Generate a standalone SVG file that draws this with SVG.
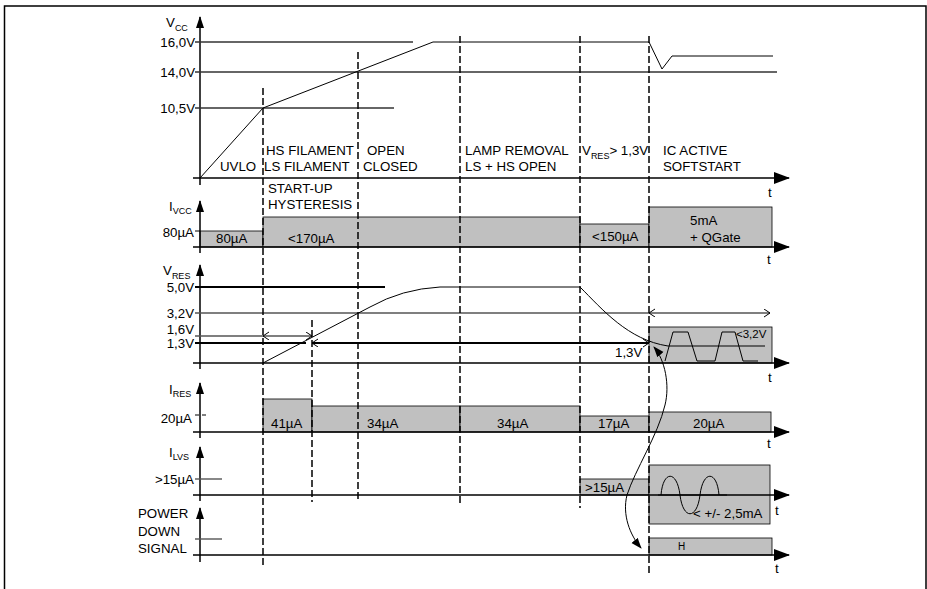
<svg xmlns="http://www.w3.org/2000/svg" width="927" height="589" viewBox="0 0 927 589">
<style>
text{font-family:"Liberation Sans",Arial,sans-serif;font-size:13.3px;fill:#000}
.r{text-anchor:end}
.sm{font-size:9px}
.ax{stroke:#000;stroke-width:1.5;fill:none}
.th{stroke:#000;stroke-width:1;fill:none}
.ref{stroke:#333;stroke-width:1.6;fill:none}
.refg{stroke:#555;stroke-width:1.4;fill:none}
.bold{stroke:#000;stroke-width:2;fill:none}
.dash{stroke:#000;stroke-width:1.5;stroke-dasharray:7,3;fill:none}
.box{fill:#c0c0c0;stroke:#000;stroke-width:0.8}
</style>
<defs>
<marker id="arr" markerUnits="userSpaceOnUse" markerWidth="18" markerHeight="14" refX="15" refY="6" orient="auto"><path d="M0,0 L16,6 L0,12 z" fill="#000"/></marker>
<marker id="arrS" markerUnits="userSpaceOnUse" markerWidth="14" markerHeight="10" refX="11" refY="4" orient="auto"><path d="M0,0 L12,4 L0,8 z" fill="#000"/></marker>
<marker id="chev" markerUnits="userSpaceOnUse" markerWidth="9" markerHeight="10" refX="6" refY="4" orient="auto-start-reverse"><path d="M0,0 L6,4 L0,8" fill="none" stroke="#000" stroke-width="1"/></marker>
<marker id="cur" markerUnits="userSpaceOnUse" markerWidth="12" markerHeight="10" refX="10" refY="4" orient="auto-start-reverse"><path d="M0,0 L11,4 L0,8 z" fill="#000"/></marker>
</defs>
<rect width="927" height="589" fill="#fff"/>
<path class="ax" d="M4.5,589 V6 H926 V589" stroke-width="1.5"/>

<g id="vcc">
<line class="ax" x1="200" y1="185" x2="200" y2="17" marker-end="url(#arrS)"/>
<line class="ax" x1="193" y1="178" x2="789" y2="178" marker-end="url(#arr)"/>
<text x="166" y="27">V<tspan class="sm" dy="4">CC</tspan></text>
<text class="r" x="195" y="47">16,0V</text>
<text class="r" x="195" y="77">14,0V</text>
<text class="r" x="195" y="113">10,5V</text>
<line class="ref" x1="195" y1="42" x2="413" y2="42"/>
<line class="ref" x1="195" y1="72" x2="777" y2="72"/>
<line class="ref" x1="195" y1="108" x2="394" y2="108"/>
<polyline class="th" points="200,178 263,108 433,42 649,42 662,69 672,56 773,56"/>
<text x="220" y="171">UVLO</text>
<text x="266" y="155">HS FILAMENT</text>
<text x="264" y="171">LS FILAMENT</text>
<text x="367" y="155">OPEN</text>
<text x="363" y="171">CLOSED</text>
<text x="465" y="155">LAMP REMOVAL</text>
<text x="465" y="171">LS + HS OPEN</text>
<text x="582" y="155">V<tspan class="sm" dy="4">RES</tspan><tspan dy="-4">&gt; 1,3V</tspan></text>
<text x="663" y="155">IC ACTIVE</text>
<text x="663" y="171">SOFTSTART</text>
<text x="268" y="193">START-UP</text>
<text x="268" y="209">HYSTERESIS</text>
<text x="768" y="197">t</text>
</g>

<g id="ivcc">
<rect class="box" x="200" y="231" width="63" height="16"/>
<rect class="box" x="263" y="217" width="317" height="30"/>
<rect class="box" x="580" y="224" width="69" height="23"/>
<rect class="box" x="649" y="207" width="123" height="40"/>
<line class="th" x1="195" y1="231" x2="200" y2="231"/>
<line class="ax" x1="200" y1="253" x2="200" y2="201" marker-end="url(#arrS)"/>
<line class="ax" x1="193" y1="247" x2="789" y2="247" marker-end="url(#arr)"/>
<text x="169" y="211">I<tspan class="sm" dy="3">VCC</tspan></text>
<text class="r" x="194" y="237">80µA</text>
<text x="216" y="243">80µA</text>
<text x="288" y="243">&lt;170µA</text>
<text x="592" y="241">&lt;150µA</text>
<text x="690" y="225">5mA</text>
<text x="690" y="242">+ QGate</text>
<text x="767" y="264">t</text>
</g>

<g id="vres">
<rect class="box" x="649" y="327" width="123" height="36"/>
<line class="ax" x1="200" y1="369" x2="200" y2="265" marker-end="url(#arrS)"/>
<line class="ax" x1="193" y1="363" x2="789" y2="363" marker-end="url(#arr)"/>
<text x="163" y="275">V<tspan class="sm" dy="4">RES</tspan></text>
<text class="r" x="194" y="292">5,0V</text>
<text class="r" x="194" y="318">3,2V</text>
<text class="r" x="194" y="334">1,6V</text>
<text class="r" x="194" y="348">1,3V</text>
<line class="bold" x1="195" y1="287" x2="385" y2="287"/>
<line class="refg" x1="195" y1="313" x2="649" y2="313"/>
<line class="refg" x1="649" y1="313" x2="770" y2="313" marker-start="url(#chev)" marker-end="url(#chev)"/>
<line class="refg" x1="195" y1="336" x2="263" y2="336"/>
<line class="refg" x1="263" y1="336" x2="312" y2="336" marker-start="url(#chev)" marker-end="url(#chev)"/>
<line class="bold" x1="195" y1="343" x2="306" y2="343"/>
<line class="bold" x1="312" y1="343" x2="649" y2="343" marker-start="url(#chev)" marker-end="url(#chev)"/>
<path class="th" d="M263,363 L370,307 Q402,289 440,287 L580,287"/>
<path class="th" d="M580,287 C602,309 628,340 668,346 L765,346"/>
<polyline class="th" points="665,361 673,332 688,332 697,361 715,361 722,332 735,332 743,361 758,361"/>
<text x="615" y="357">1,3V</text>
<text x="736" y="338" style="font-size:11.5px">&lt;3,2V</text>
<text x="768" y="382">t</text>
</g>

<g id="ires">
<rect class="box" x="263" y="399" width="49" height="33"/>
<rect class="box" x="312" y="406" width="148" height="26"/>
<rect class="box" x="460" y="406" width="120" height="26"/>
<rect class="box" x="580" y="416" width="69" height="16"/>
<rect class="box" x="649" y="412" width="122" height="20"/>
<line class="ax" x1="200" y1="438" x2="200" y2="383" marker-end="url(#arrS)"/>
<line class="ax" x1="193" y1="432" x2="789" y2="432" marker-end="url(#arr)"/>
<line class="th" x1="195" y1="415" x2="207" y2="415" stroke-dasharray="4,3" stroke-width="1.5"/>
<text x="169" y="394">I<tspan class="sm" dy="3">RES</tspan></text>
<text class="r" x="192" y="423">20µA</text>
<text x="271" y="428">41µA</text>
<text x="367" y="428">34µA</text>
<text x="497" y="428">34µA</text>
<text x="598" y="428">17µA</text>
<text x="693" y="428">20µA</text>
<text x="767" y="448">t</text>
</g>

<g id="ilvs">
<rect class="box" x="580" y="479" width="69" height="16"/>
<rect class="box" x="649" y="465" width="121" height="59"/>
<line class="ax" x1="200" y1="501" x2="200" y2="447" marker-end="url(#arrS)"/>
<line class="ax" x1="193" y1="495" x2="789" y2="495" marker-end="url(#arr)"/>
<line class="refg" x1="195" y1="479" x2="222" y2="479"/>
<text x="169" y="457">I<tspan class="sm" dy="3">LVS</tspan></text>
<text class="r" x="194" y="484">&gt;15µA</text>
<text x="585" y="492">&gt;15µA</text>
<line class="th" x1="658" y1="495" x2="727" y2="495"/>
<path class="th" d="M661,495 C663,470 677,470 680,495 C683,520 697,520 700,495 C703,470 717,470 719,495"/>
<text x="693" y="518">&lt; +/- 2,5mA</text>
<text x="775" y="515">t</text>
</g>

<g id="pd">
<rect class="box" x="649" y="538" width="123" height="17"/>
<line class="ax" x1="200" y1="562" x2="200" y2="508" marker-end="url(#arrS)"/>
<line class="ax" x1="193" y1="555" x2="789" y2="555" marker-end="url(#arr)"/>
<line class="refg" x1="195" y1="539" x2="222" y2="539"/>
<text x="138" y="518">POWER</text>
<text x="138" y="536">DOWN</text>
<text x="138" y="553">SIGNAL</text>
<text x="678" y="550" style="font-size:10px">H</text>
<text x="775" y="573">t</text>
</g>

<g id="connectors">
<line class="dash" x1="263" y1="88" x2="263" y2="568"/>
<line class="dash" x1="312" y1="320" x2="312" y2="502"/>
<line class="dash" x1="358" y1="52" x2="358" y2="502"/>
<line class="dash" x1="460" y1="36" x2="460" y2="505"/>
<line class="dash" x1="580" y1="36" x2="580" y2="508"/>
<line class="dash" x1="649" y1="36" x2="649" y2="574"/>
<path class="th" d="M654,347 C665,360 670,385 665,405 C658,435 635,470 627,495 C622,515 630,535 641,548" marker-start="url(#cur)" marker-end="url(#cur)"/>
</g>
</svg>
